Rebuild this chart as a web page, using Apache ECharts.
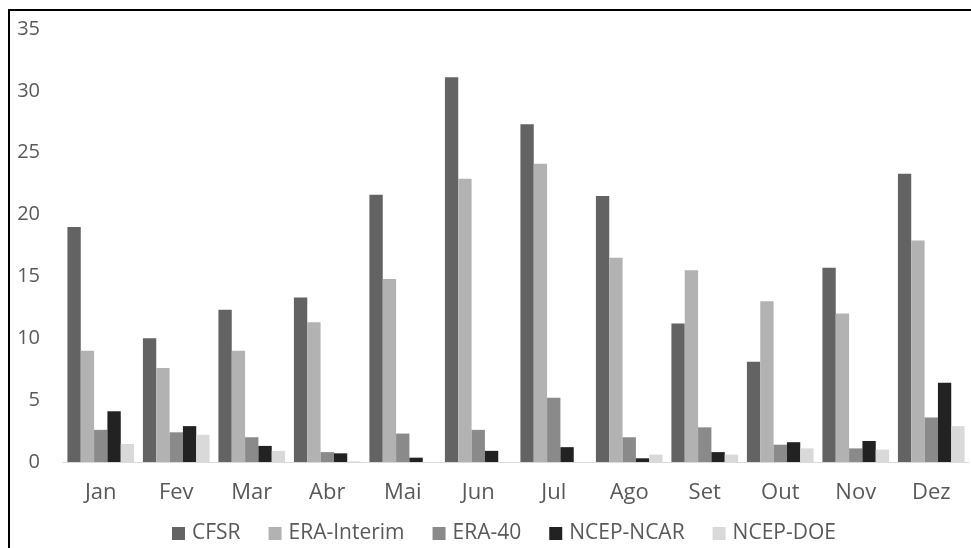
<!DOCTYPE html>
<html>
<head>
<meta charset="utf-8">
<script src="https://cdn.jsdelivr.net/npm/echarts@6/dist/echarts.min.js"></script>
<style>
  html, body { margin: 0; padding: 0; background: #fff; }
  #chart { width: 971px; height: 548px; }
</style>
</head>
<body>
<div id="chart"></div>
<script>
// Monthly values per reanalysis product
const months = ['Jan', 'Fev', 'Mar', 'Abr', 'Mai', 'Jun', 'Jul', 'Ago', 'Set', 'Out', 'Nov', 'Dez'];
const seriesNames = ['CFSR', 'ERA-Interim', 'ERA-40', 'NCEP-NCAR', 'NCEP-DOE'];
const cfsr       = [19.0, 10.0, 12.3, 13.3, 21.6, 31.1, 27.3, 21.5, 11.2, 8.1, 15.7, 23.3];
const eraInterim = [9.0, 7.6, 9.0, 11.3, 14.8, 22.9, 24.1, 16.5, 15.5, 13.0, 12.0, 17.9];
const era40      = [2.6, 2.4, 2.0, 0.8, 2.3, 2.6, 5.2, 2.0, 2.8, 1.4, 1.1, 3.6];
const ncepNcar   = [4.1, 2.9, 1.3, 0.7, 0.35, 0.9, 1.2, 0.3, 0.8, 1.6, 1.7, 6.4];
const ncepDoe    = [1.45, 2.2, 0.9, 0.05, 0, 0, 0, 0.6, 0.6, 1.1, 1.0, 2.9];
const yTicks     = [0, 5, 10, 15, 20, 25, 30, 35];

const values = [cfsr, eraInterim, era40, ncepNcar, ncepDoe];
const colors = ['#636363', '#b2b2b2', '#8a8a8a', '#222222', '#d9d9d9'];
const font = '"Open Sans", "Noto Sans", sans-serif';
const textColor = '#595959';

const chart = echarts.init(document.getElementById('chart'), null, { renderer: 'canvas' });

chart.setOption({
  animation: false,
  backgroundColor: '#ffffff',
  textStyle: { fontFamily: font },
  graphic: [{
    type: 'rect',
    shape: { x: 9, y: 10, width: 1100, height: 700 },
    style: { fill: 'none', stroke: '#000000', lineWidth: 2 },
    silent: true,
    z: 100
  }],
  grid: { left: 63, right: 2, top: 29, bottom: 86, containLabel: false },
  legend: {
    left: 167,
    top: 518,
    itemWidth: 13,
    itemHeight: 13,
    itemGap: 28,
    icon: 'rect',
    textStyle: { color: textColor, fontSize: 21, fontFamily: font, padding: [0, 0, 0, 2] },
    data: seriesNames
  },
  xAxis: {
    type: 'category',
    data: months,
    axisLine: { show: true, lineStyle: { color: '#d9d9d9', width: 1 } },
    axisTick: { show: false },
    axisLabel: { color: textColor, fontSize: 22, fontFamily: font, margin: 20 }
  },
  yAxis: {
    type: 'value',
    min: yTicks[0],
    max: yTicks[yTicks.length - 1],
    interval: yTicks[1] - yTicks[0],
    axisLine: { show: false },
    axisTick: { show: false },
    splitLine: { show: false },
    axisLabel: { color: textColor, fontSize: 20, fontFamily: font, margin: 23 }
  },
  series: seriesNames.map((name, i) => ({
    name: name,
    type: 'bar',
    data: values[i],
    itemStyle: { color: colors[i] },
    barGap: '0%',
    barCategoryGap: '11.7%'
  }))
});
</script>
</body>
</html>
